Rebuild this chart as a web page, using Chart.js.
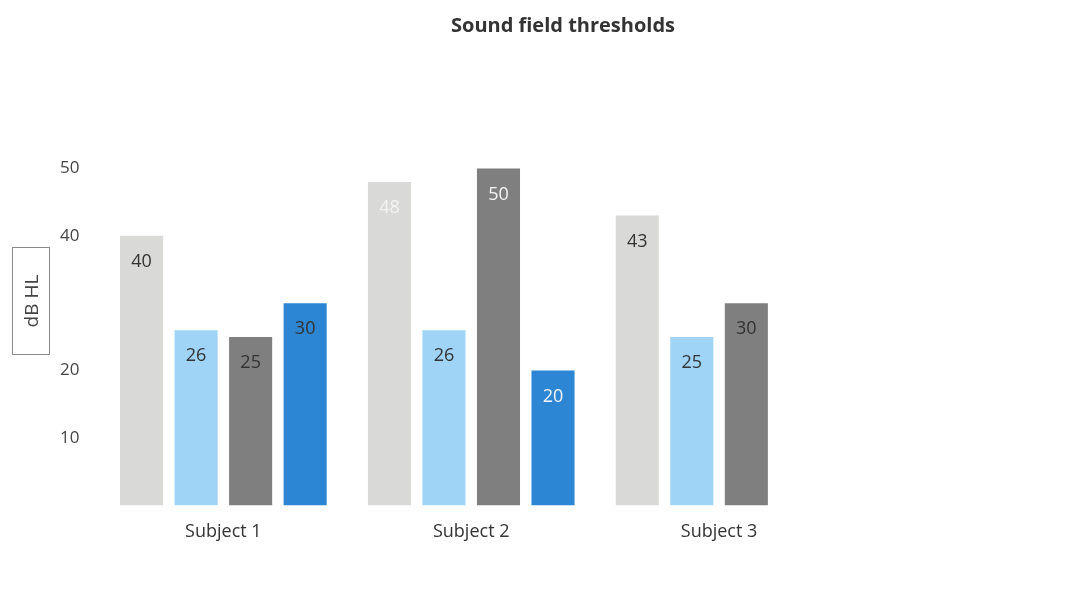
<!DOCTYPE html>
<html>
<head>
<meta charset="utf-8">
<script src="https://cdn.jsdelivr.net/npm/chart.js@4.4.1/dist/chart.umd.min.js"></script>
<style>
  html, body { margin: 0; padding: 0; background: #fff; }
  #wrap { position: relative; width: 1091px; height: 611px; }
  #axisTitle {
    position: absolute; left: 12px; top: 247px; width: 38px; height: 108px;
    border: 1px solid #8a8a8a; box-sizing: border-box;
    display: flex; align-items: center; justify-content: center;
    font-family: "Open Sans", sans-serif; font-size: 19px; color: #444;
  }
  #axisTitle span { transform: rotate(-90deg); white-space: nowrap; display: block; }
</style>
</head>
<body>
<div id="wrap">
  <canvas id="chart" width="1091" height="611"></canvas>
  <div id="axisTitle"><span>dB HL</span></div>
</div>
<script>
const subjects = ['Subject 1', 'Subject 2', 'Subject 3'];
const series1 = [40, 48, 43];
const series2 = [26, 26, 25];
const series3 = [25, 50, 30];
const series4 = [30, 20, null];
const shownTicks = [10, 20, 40, 50];

const colors = ['#d9d9d7', '#9fd4f7', '#7f7f7f', '#2d86d4'];
// the scan shows light text on a few bars of subject 2
const lightLabels = { '0-1': true, '2-1': true, '3-1': true };

const barLabels = {
    id: 'barLabels',
    afterDatasetsDraw(chart) {
        const ctx = chart.ctx;
        ctx.save();
        ctx.font = '18px "Open Sans", sans-serif';
        ctx.textAlign = 'center';
        ctx.textBaseline = 'middle';
        chart.data.datasets.forEach((ds, di) => {
            chart.getDatasetMeta(di).data.forEach((bar, i) => {
                const v = ds.data[i];
                if (v == null) return;
                ctx.fillStyle = lightLabels[di + '-' + i] ? '#f4f4f4' : '#333';
                ctx.fillText(String(v), bar.x, bar.y + 26);
            });
        });
        ctx.restore();
    }
};

const titleText = {
    id: 'titleText',
    afterDraw(chart) {
        const ctx = chart.ctx;
        ctx.save();
        ctx.font = 'bold 20px "Open Sans", sans-serif';
        ctx.fillStyle = '#333';
        ctx.textAlign = 'center';
        ctx.textBaseline = 'middle';
        ctx.fillText('Sound field thresholds', 563, 26);
        ctx.restore();
    }
};

const ctx = document.getElementById('chart').getContext('2d');
new Chart(ctx, {
    type: 'bar',
    data: {
        labels: subjects,
        datasets: [
            { label: 'Series 1', data: series1, backgroundColor: colors[0] },
            { label: 'Series 2', data: series2, backgroundColor: colors[1] },
            { label: 'Series 3', data: series3, backgroundColor: colors[2] },
            { label: 'Series 4', data: series4, backgroundColor: colors[3] }
        ]
    },
    options: {
        responsive: false,
        animation: false,
        categoryPercentage: 0.88,
        barPercentage: 0.79,
        layout: { padding: { left: 48, right: 248, top: 101, bottom: 60 } },
        plugins: {
            legend: { display: false },
            title: { display: false },
            tooltip: { enabled: false }
        },
        scales: {
            x: {
                grid: { display: false },
                border: { display: false },
                ticks: { color: '#333', padding: 8, font: { family: '"Open Sans", sans-serif', size: 18 } }
            },
            y: {
                min: 0,
                max: 60,
                grid: { display: false },
                border: { display: false },
                ticks: {
                    stepSize: 10,
                    padding: 12,
                    color: '#444',
                    font: { family: '"Open Sans", sans-serif', size: 17 },
                    callback: v => shownTicks.includes(v) ? v : ''
                }
            }
        }
    },
    plugins: [barLabels, titleText]
});
</script>
</body>
</html>
